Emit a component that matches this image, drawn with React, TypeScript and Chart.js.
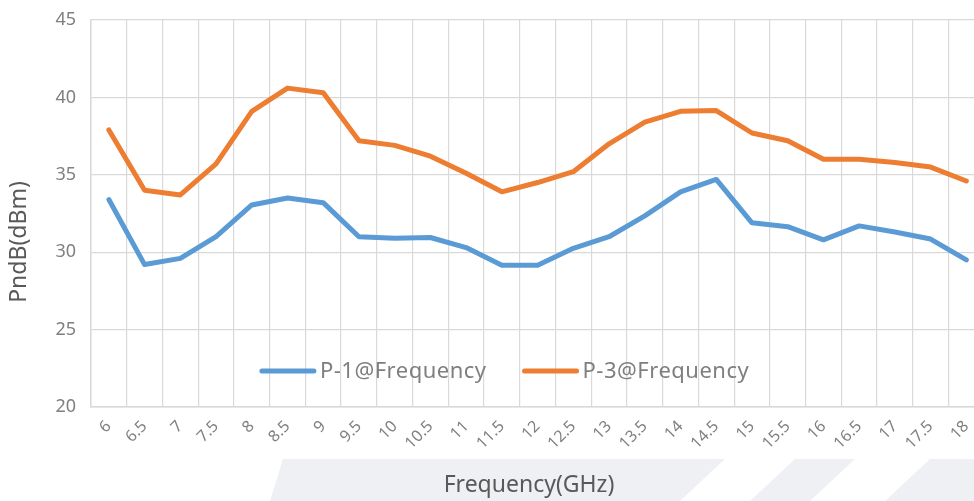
import React, { useEffect, useRef } from "react";
import { Chart, registerables } from "chart.js";

Chart.register(...registerables);

const frequencies = ["6", "6.5", "7", "7.5", "8", "8.5", "9", "9.5", "10", "10.5", "11", "11.5", "12", "12.5", "13", "13.5", "14", "14.5", "15", "15.5", "16", "16.5", "17", "17.5", "18"];
const p1Values = [33.4, 29.2, 29.6, 31.0, 33.05, 33.5, 33.2, 31.0, 30.9, 30.95, 30.3, 29.15, 29.15, 30.25, 31.0, 32.35, 33.9, 34.7, 31.9, 31.65, 30.8, 31.7, 31.3, 30.85, 29.5];
const p3Values = [37.9, 34.0, 33.7, 35.7, 39.1, 40.6, 40.3, 37.2, 36.9, 36.2, 35.1, 33.9, 34.5, 35.2, 37.0, 38.4, 39.1, 39.15, 37.7, 37.2, 36.0, 36.0, 35.8, 35.5, 34.6];
const seriesLabels = ["P-1@Frequency", "P-3@Frequency"];
const seriesColors = ["#5B9BD5", "#ED7D31"];
const yMin = 20;
const yMax = 45;
const yStep = 5;
const xTitle = "Frequency(GHz)";
const yTitle = "PndB(dBm)";

const GRID = "#d9d9d9";
const TICK_COLOR = "#808080";
const TITLE_COLOR = "#595959";
const FONT = "'Noto Sans', 'DejaVu Sans', sans-serif";

const legendPlugin = {
  id: "innerLegend",
  afterDraw(chart: any) {
    const { ctx, chartArea } = chart;
    const lineLen = 56;
    const gap = 4;
    const itemGap = 36;
    ctx.save();
    ctx.font = `22px ${FONT}`;
    try { (ctx as any).letterSpacing = "0.5px"; } catch (e) {}
    const items = chart.data.datasets.map((ds: any) => ({
      label: ds.label,
      color: ds.borderColor,
      w: ctx.measureText(ds.label).width,
    }));
    const total = items.reduce((s: number, it: any) => s + lineLen + gap + it.w, 0) + itemGap * (items.length - 1);
    const cx = chartArea.left + (chartArea.right - chartArea.left) * 0.463;
    let x = cx - total / 2;
    const y = chartArea.bottom - 36;
    ctx.textBaseline = "middle";
    ctx.textAlign = "left";
    for (const it of items) {
      ctx.strokeStyle = it.color;
      ctx.lineWidth = 5;
      ctx.lineCap = "round";
      ctx.beginPath();
      ctx.moveTo(x + 2, y);
      ctx.lineTo(x + lineLen - 2, y);
      ctx.stroke();
      ctx.fillStyle = "#7f7f7f";
      ctx.fillText(it.label, x + lineLen + gap, y + 1);
      x += lineLen + gap + it.w + itemGap;
    }
    ctx.restore();
  },
};

const axisTitlePlugin = {
  id: "axisTitles",
  afterDraw(chart: any) {
    const { ctx, chartArea, height } = chart;
    ctx.save();
    ctx.fillStyle = TITLE_COLOR;
    ctx.font = `23px ${FONT}`;
    ctx.textAlign = "center";
    ctx.textBaseline = "alphabetic";
    ctx.fillText(xTitle, chartArea.left + 438, height - 9);
    ctx.translate(26, chartArea.top + 222);
    ctx.rotate(-Math.PI / 2);
    ctx.fillText(yTitle, 0, 0);
    ctx.restore();
  },
};

const watermarkPlugin = {
  id: "watermark",
  beforeDraw(chart: any) {
    const { ctx, width, height } = chart;
    ctx.save();
    ctx.fillStyle = "#eff0f4";
    const top = height - 42;
    ctx.beginPath();
    ctx.moveTo(283, top);
    ctx.lineTo(725, top);
    ctx.lineTo(680, height);
    ctx.lineTo(270, height);
    ctx.closePath();
    ctx.fill();
    ctx.beginPath();
    ctx.moveTo(795, top);
    ctx.lineTo(855, top);
    ctx.lineTo(810, height);
    ctx.lineTo(750, height);
    ctx.closePath();
    ctx.fill();
    ctx.beginPath();
    ctx.moveTo(930, top);
    ctx.lineTo(width, top);
    ctx.lineTo(width, height);
    ctx.lineTo(885, height);
    ctx.closePath();
    ctx.fill();
    ctx.restore();
  },
};

export default function App() {
  const ref = useRef<HTMLCanvasElement>(null);
  useEffect(() => {
    if (!ref.current) return;
    const mk = (i: number, data: number[]) => ({
      label: seriesLabels[i],
      data,
      borderColor: seriesColors[i],
      backgroundColor: seriesColors[i],
      borderWidth: 5,
      pointRadius: 0,
      tension: 0,
      borderCapStyle: "round" as const,
      borderJoinStyle: "round" as const,
    });
    const chart = new Chart(ref.current, {
      type: "line",
      data: {
        labels: frequencies,
        datasets: [mk(0, p1Values), mk(1, p3Values)],
      },
      options: {
        animation: false,
        responsive: false,
        devicePixelRatio: 1,
        layout: { padding: { top: 20, right: 4, left: 0, bottom: 0 } },
        plugins: {
          legend: { display: false },
          tooltip: { enabled: false },
        },
        scales: {
          x: {
            offset: true,
            grid: { offset: true, color: GRID, lineWidth: 1.2, drawTicks: false },
            border: { color: GRID, width: 1.5 },
            ticks: {
              autoSkip: false,
              maxRotation: 45,
              minRotation: 45,
              padding: 10,
              color: TICK_COLOR,
              font: { family: FONT, size: 16 },
            },
            afterFit: (scale: any) => {
              scale.height = 94;
            },
          },
          y: {
            min: yMin,
            max: yMax,
            ticks: {
              stepSize: yStep,
              padding: 6,
              color: TICK_COLOR,
              font: { family: FONT, size: 18 },
            },
            grid: { color: GRID, lineWidth: 1.2, drawTicks: true, tickLength: 9, tickColor: "rgba(0,0,0,0)" },
            border: { color: GRID, width: 1.5 },
            afterFit: (scale: any) => {
              scale.width = 91;
            },
          },
        },
      },
      plugins: [watermarkPlugin, legendPlugin, axisTitlePlugin],
    });
    return () => chart.destroy();
  }, []);
  return (
    <div style={{ position: "fixed", left: 0, top: 0, width: 974, height: 501, overflow: "hidden", background: "#fff" }}>
      <canvas ref={ref} width={990} height={501} style={{ width: 990, height: 501, display: "block" }} />
    </div>
  );
}
